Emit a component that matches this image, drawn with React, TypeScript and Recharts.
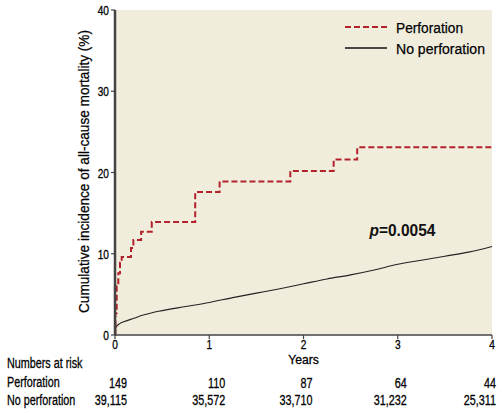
import React from 'react';
import { LineChart, Line, XAxis, YAxis, CartesianGrid, ReferenceDot } from 'recharts';

const perfTimes = [0, 0.005, 0.018, 0.035, 0.053, 0.071, 0.17, 0.195, 0.277, 0.39, 0.851, 1.11, 1.86, 2.32, 2.57, 4.0];
const perfValues = [0, 2.7, 6.0, 7.6, 8.9, 9.6, 10.7, 11.7, 12.7, 13.9, 17.6, 18.9, 20.2, 21.6, 23.1, 23.1];

const noPerfTimes = [0, 0.005, 0.01, 0.02, 0.05, 0.1, 0.2, 0.3, 0.5, 0.75, 1, 1.25, 1.5, 1.75, 2, 2.25, 2.5, 2.75, 3, 3.25, 3.5, 3.75, 4];
const noPerfValues = [0, 0.6, 0.9, 1.1, 1.4, 1.65, 2.05, 2.45, 3.0, 3.5, 4.0, 4.6, 5.15, 5.7, 6.3, 6.9, 7.4, 8.0, 8.7, 9.2, 9.7, 10.2, 10.9];

const xTicks = [0, 1, 2, 3, 4];
const yTicks = [0, 10, 20, 30, 40];
const riskPerforation = ['149', '110', '87', '64', '44'];
const riskNoPerforation = ['39,115', '35,572', '33,710', '31,232', '25,311'];
const pValueText = '=0.0054';

const perfData = perfTimes.map((t, i) => ({ t, v: perfValues[i] }));
const noPerfData = noPerfTimes.map((t, i) => ({ t, v: noPerfValues[i] }));

const FONT = '"Liberation Sans", Arial, sans-serif';
const RED = '#B2222A';
const riskDx = [12, 16, 9, 9, 4];
const SX = 0.72;

const NText = (p: any) => {
  const { x, y, anchor = 'start', size = 15, weight = 'normal', scale = SX, children } = p;
  return (
    <text
      transform={`translate(${x},${y}) scale(${scale},1)`}
      x={0}
      y={0}
      textAnchor={anchor}
      fontSize={size}
      fontWeight={weight}
      fontFamily={FONT}
      fill="#000"
      stroke="#000"
      strokeWidth={0.3}
    >
      {children}
    </text>
  );
};

const XTick = (props: any) => {
  const { x, y, payload, index } = props;
  return (
    <g>
      <NText x={x} y={y + 8} anchor="middle" size={13} scale={0.78}>{payload.value}</NText>
      <NText x={x + riskDx[index]} y={y + 47} anchor="end">{riskPerforation[index]}</NText>
      <NText x={x + riskDx[index]} y={y + 64} anchor="end">{riskNoPerforation[index]}</NText>
      {index === 0 && (
        <g>
          <NText x={7} y={y + 27}>Numbers at risk</NText>
          <NText x={7} y={y + 46}>Perforation</NText>
          <NText x={7} y={y + 64}>No perforation</NText>
        </g>
      )}
    </g>
  );
};

const YTick = (props: any) => {
  const { x, y, payload } = props;
  return <NText x={x} y={y + 5} anchor="end" size={13} scale={0.78}>{payload.value}</NText>;
};

const YLabel = (props: any) => {
  const { viewBox } = props;
  const cy = viewBox.y + viewBox.height / 2 - 1;
  const cx = 89;
  return (
    <text
      x={cx}
      y={cy}
      transform={`rotate(-90 ${cx} ${cy})`}
      textAnchor="middle"
      fontSize={15}
      fontFamily={FONT}
      fill="#000"
      stroke="#000"
      strokeWidth={0.25}
      textLength={283}
      lengthAdjust="spacingAndGlyphs"
    >
      Cumulative incidence of all-cause mortality (%)
    </text>
  );
};

const XLabel = (props: any) => {
  const { viewBox } = props;
  return (
    <NText x={viewBox.x + viewBox.width / 2} y={viewBox.y + 29} anchor="middle" size={13.5} scale={0.9}>
      Years
    </NText>
  );
};

const PLabel = (props: any) => {
  const { viewBox } = props;
  return (
    <text
      x={viewBox.x - 33}
      y={viewBox.y}
      fontSize={17}
      fontWeight="bold"
      fontFamily={FONT}
      fill="#111"
      textLength={66}
      lengthAdjust="spacingAndGlyphs"
    >
      <tspan fontStyle="italic">p</tspan>
      <tspan>{pValueText}</tspan>
    </text>
  );
};

export default function App() {
  return (
    <div style={{ position: 'absolute', left: 0, top: 0, width: 502, height: 413, background: '#fff' }}>
      <LineChart width={502} height={413} margin={{ top: 10, right: 10, bottom: 0, left: 0 }}>
        <CartesianGrid horizontal={false} vertical={false} fill="#F1EDDD" stroke="none" />
        <XAxis
          type="number"
          dataKey="t"
          domain={[0, 4]}
          ticks={xTicks}
          height={78}
          interval={0}
          allowDuplicatedCategory={false}
          axisLine={{ stroke: '#444', strokeWidth: 1.5 }}
          tickLine={{ stroke: '#444', strokeWidth: 1.2 }}
          tickSize={4}
          tick={<XTick />}
          label={<XLabel />}
        />
        <YAxis
          type="number"
          domain={[0, 40]}
          ticks={yTicks}
          width={115}
          axisLine={{ stroke: '#444', strokeWidth: 2.5 }}
          tickLine={{ stroke: '#444', strokeWidth: 1.2 }}
          tickSize={4}
          tick={<YTick />}
          label={<YLabel />}
        />
        <Line
          data={noPerfData}
          dataKey="v"
          type="monotone"
          stroke="#222"
          strokeWidth={1.1}
          dot={false}
          isAnimationActive={false}
        />
        <Line
          data={perfData}
          dataKey="v"
          type="stepAfter"
          stroke={RED}
          strokeWidth={2}
          strokeDasharray="6 3"
          dot={false}
          isAnimationActive={false}
        />
        <ReferenceDot x={3.05} y={12.2} r={0} fill="none" stroke="none" label={<PLabel />} />
      </LineChart>
      <svg width={162} height={72} style={{ position: 'absolute', left: 340, top: 12 }}>
        <line x1={5} y1={15} x2={47} y2={15} stroke={RED} strokeWidth={2} strokeDasharray="6 3" />
        <line x1={5} y1={36} x2={47} y2={36} stroke="#111" strokeWidth={1.5} />
        <text x={56} y={20.5} fontSize={15.5} fontFamily={FONT} fill="#000" stroke="#000" strokeWidth={0.25} textLength={67} lengthAdjust="spacingAndGlyphs">Perforation</text>
        <text x={56} y={41.5} fontSize={15.5} fontFamily={FONT} fill="#000" stroke="#000" strokeWidth={0.25} textLength={89} lengthAdjust="spacingAndGlyphs">No perforation</text>
      </svg>
    </div>
  );
}
